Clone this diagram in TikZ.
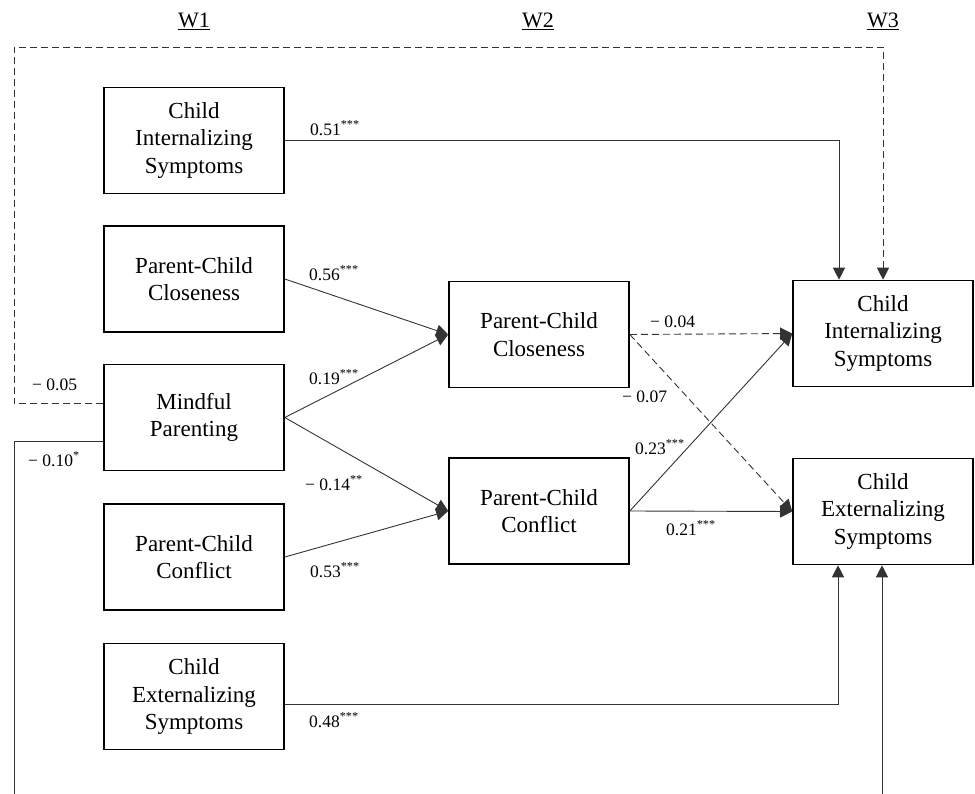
\documentclass[tikz,border=0pt]{standalone}
\usepackage{fontspec}
\setmainfont{Liberation Serif}
\usepackage{tikz}
\usetikzlibrary{arrows.meta}
\usetikzlibrary{positioning}
\tikzset{
    varbox/.style={
        draw,
        line width=1.6pt,
        minimum width=180pt,
        minimum height=106pt,
        align=center,
        font=\fontsize{23}{27.5}\selectfont
    },
    % path arrows of the model
    patharrow/.style={
        line width=0.9pt,
        black!80,
        -{Triangle[length=12pt, width=12pt]}
    },
    nspath/.style={
        patharrow,
        dash pattern=on 7pt off 4pt
    },
    coef/.style={
        anchor=west,
        inner sep=0pt,
        font=\fontsize{17.5}{20}\selectfont
    }
}

\begin{document}
\begin{tikzpicture}[x=1pt,y=-1pt]
   \useasboundingbox (0,0) rectangle (975,794);
   \clip (0,0) rectangle (975,794);

    % waves
    \node[font=\fontsize{22}{26}\selectfont] (w1) at (194,21) {\underline{W1}};
    \node[font=\fontsize{22}{26}\selectfont] (w2) at (538,21) {\underline{W2}};
    \node[font=\fontsize{22}{26}\selectfont] (w3) at (883,21) {\underline{W3}};

    % W1 boxes
    \node[varbox] (cis1) at (194,140.5) {Child\\Internalizing\\Symptoms};
    \node[varbox] (pcc1) at (194,279) {Parent-Child\\Closeness};
    \node[varbox] (mp1) at (194,417.5) {Mindful\\Parenting};
    \node[varbox] (pcf1) at (194,557) {Parent-Child\\Conflict};
    \node[varbox] (ces1) at (194,696.5) {Child\\Externalizing\\Symptoms};

    % W2 boxes
    \node[varbox] (pcc2) at (539,334.5) {Parent-Child\\Closeness};
    \node[varbox] (pcf2) at (539,511) {Parent-Child\\Conflict};

    % W3 boxes
    \node[varbox] (cis3) at (883,333.5) {Child\\Internalizing\\Symptoms};
    \node[varbox] (ces3) at (883,511.5) {Child\\Externalizing\\Symptoms};

    % corners of the outer paths
    \coordinate (tl) at (14,47);
    \coordinate (bl) at (14,830);

    % W1 -> W2
    \draw[patharrow] (pcc1.east) -- (pcc2.west);
    \draw[patharrow] (mp1.east) -- (pcc2.west);
    \draw[patharrow] (mp1.east) -- (pcf2.west);
    \draw[patharrow] (pcf1.east) -- (pcf2.west);

    % W2 -> W3
    \draw[nspath] (pcc2.east) -- (cis3.west);
    \draw[nspath] (pcc2.east) -- (ces3.west);
    \draw[patharrow] (pcf2.east) -- (cis3.west);
    \draw[patharrow] (pcf2.east) -- (ces3.west);

    % stability paths
    \draw[patharrow] (cis1.east) -| ([xshift=-44pt]cis3.north);
    \draw[patharrow] ([yshift=-8pt]ces1.east) -| ([xshift=-45pt]ces3.south);

    % direct paths
    \draw[nspath] ([yshift=14pt]mp1.west) -| (tl) -| (cis3.north);
    \draw[patharrow] ([yshift=-24pt]mp1.west) -| (bl) -| ([xshift=-1pt]ces3.south);

    % coefficients
    \node[coef] (b1) at (310,128) {0.51\textsuperscript{***}};
    \node[coef] (b2) at (309,273) {0.56\textsuperscript{***}};
    \node[coef] (b3) at (309,377) {0.19\textsuperscript{***}};
    \node[coef] (b4) at (305,483) {− 0.14\textsuperscript{**}};
    \node[coef] (b5) at (310,570) {0.53\textsuperscript{***}};
    \node[coef] (b6) at (309,720) {0.48\textsuperscript{***}};
    \node[coef] (b7) at (32,385) {− 0.05};
    \node[coef] (b8) at (28,459) {− 0.10\textsuperscript{*}};
    \node[coef] (b9) at (650,322) {− 0.04};
    \node[coef] (b10) at (622,397) {− 0.07};
    \node[coef] (b11) at (635,447) {0.23\textsuperscript{***}};
    \node[coef] (b12) at (666,528) {0.21\textsuperscript{***}};

\end{tikzpicture}
\end{document}
